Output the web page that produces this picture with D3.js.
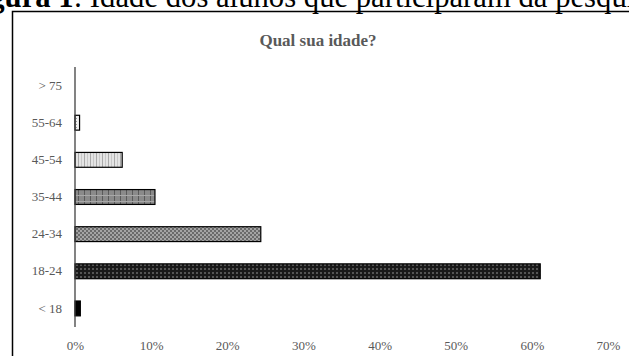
<!DOCTYPE html>
<html>
<head>
<meta charset="utf-8">
<script src="https://cdn.jsdelivr.net/npm/d3@7"></script>
<style>
  html, body { margin: 0; padding: 0; background: #fff; }
  svg { display: block; }
</style>
</head>
<body>
<svg id="chart" width="629" height="356"></svg>
<script>
// Age groups (top to bottom) and share of respondents (%)
const categories = ["> 75", "55-64", "45-54", "35-44", "24-34", "18-24", "< 18"];
const shares = [0, 0.6, 6.2, 10.5, 24.4, 61.1, 0.7];
const patternIds = ["p0", "p1", "p2", "p3", "p4", "p5", "p6"];
const xTicks = [0, 10, 20, 30, 40, 50, 60, 70];

const svg = d3.select("#chart");
const serif = "'Liberation Serif', 'Times New Roman', serif";

// Fill patterns for the bars
const defs = svg.append("defs");
function pat(id, size, bg, draw) {
  const p = defs.append("pattern").attr("id", id)
    .attr("patternUnits", "userSpaceOnUse").attr("width", size).attr("height", size);
  p.append("rect").attr("width", size).attr("height", size).attr("fill", bg);
  draw(p);
}
pat("p0", 4, "#fff", p => {});
pat("p1", 3, "#f2f2f2", p => {
  p.append("rect").attr("x", 1).attr("y", 1).attr("width", 1).attr("height", 1).attr("fill", "#999");
});
pat("p2", 6, "#e4e4e4", p => {
  p.append("rect").attr("x", 0).attr("y", 0).attr("width", 1).attr("height", 6).attr("fill", "#aaa");
  p.append("rect").attr("x", 3).attr("y", 0).attr("width", 1).attr("height", 6).attr("fill", "#c8c8c8");
});
pat("p3", 6, "#8a8a8a", p => {
  p.append("rect").attr("x", 0).attr("y", 0).attr("width", 1).attr("height", 6).attr("fill", "#5a5a5a");
  p.append("rect").attr("x", 0).attr("y", 3).attr("width", 6).attr("height", 1).attr("fill", "#a8a8a8");
});
pat("p4", 4, "#a4a4a4", p => {
  p.append("rect").attr("x", 0).attr("y", 0).attr("width", 2).attr("height", 2).attr("fill", "#6a6a6a");
  p.append("rect").attr("x", 2).attr("y", 2).attr("width", 2).attr("height", 2).attr("fill", "#6a6a6a");
});
pat("p5", 4, "#1a1a1a", p => {
  p.append("rect").attr("x", 0).attr("y", 0).attr("width", 2).attr("height", 2).attr("fill", "#555");
});
pat("p6", 4, "#000", p => {});

// Caption above the framed chart
svg.append("text")
  .attr("x", -38).attr("y", 7)
  .attr("font-family", serif).attr("font-size", 30.7).attr("fill", "#000")
  .call(t => {
    t.append("tspan").attr("font-weight", "bold").text("Figura 1");
    t.append("tspan").text(": Idade dos alunos que participaram da pesquisa");
  });

// Chart frame
svg.append("rect")
  .attr("x", 12.5).attr("y", 11.5).attr("width", 640).attr("height", 360)
  .attr("fill", "none").attr("stroke", "#000").attr("stroke-width", 1.5);

// Title
svg.append("text")
  .attr("x", 318).attr("y", 46)
  .attr("text-anchor", "middle")
  .attr("font-family", serif).attr("font-size", 17).attr("font-weight", "bold")
  .attr("fill", "#595959")
  .text("Qual sua idade?");

const x = d3.scaleLinear().domain([0, 70]).range([75, 608]);
const y = d3.scaleBand().domain(categories).range([67, 327]).paddingInner(0.6).paddingOuter(0.3);

// Bars
svg.append("g").selectAll("rect")
  .data(categories)
  .join("rect")
  .attr("x", x(0))
  .attr("y", d => y(d))
  .attr("width", (d, i) => x(shares[i]) - x(0))
  .attr("height", y.bandwidth())
  .attr("fill", (d, i) => `url(#${patternIds[i]})`)
  .attr("stroke", "#000")
  .attr("stroke-width", 1.2)
  .attr("display", (d, i) => shares[i] > 0 ? null : "none");

// Category axis
const yAxis = svg.append("g")
  .attr("transform", `translate(${x(0)},0)`)
  .call(d3.axisLeft(y).tickSize(0).tickPadding(13));
yAxis.select(".domain").remove();
yAxis.selectAll("text")
  .attr("font-family", serif).attr("font-size", 13).attr("fill", "#595959");
svg.append("line")
  .attr("x1", x(0)).attr("x2", x(0)).attr("y1", 67).attr("y2", 327)
  .attr("stroke", "#404040").attr("stroke-width", 1.3);

// Value axis (labels only)
const xAxis = svg.append("g")
  .attr("transform", "translate(0,338)")
  .call(d3.axisBottom(x).tickValues(xTicks).tickSize(0).tickFormat(d => d + "%"));
xAxis.select(".domain").remove();
xAxis.selectAll("text")
  .attr("font-family", serif).attr("font-size", 13).attr("fill", "#595959");
</script>
</body>
</html>
